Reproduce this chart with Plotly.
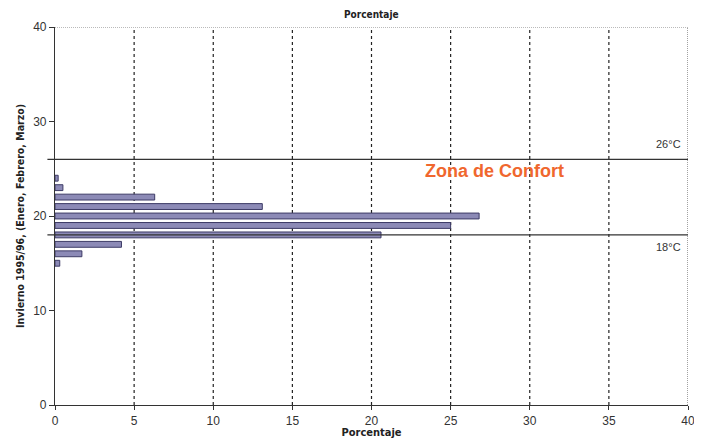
import plotly.graph_objects as go

temperaturas = [15, 16, 17, 18, 19, 20, 21, 22, 23, 24]
porcentajes = [0.3, 1.7, 4.2, 20.6, 25.0, 26.8, 13.1, 6.3, 0.5, 0.2]
x_ticks = [0, 5, 10, 15, 20, 25, 30, 35, 40]
y_ticks = [0, 10, 20, 30, 40]
limite_inferior = 18
limite_superior = 26

COND = "Liberation Sans Narrow, DejaVu Sans Condensed, Arial Narrow"
SANS = "Arial, Liberation Sans"

fig = go.Figure()
fig.add_trace(go.Bar(
    x=porcentajes, y=temperaturas, orientation="h", width=0.62,
    marker=dict(color="#8c8ab6", line=dict(color="#3d3b66", width=1)),
    showlegend=False,
))

for v in x_ticks[1:-1]:
    fig.add_shape(type="line", x0=v, x1=v, y0=0, y1=40, xref="x", yref="y",
                  line=dict(color="#222", width=1.2, dash="3px,3px"), layer="below")
fig.add_shape(type="line", x0=40, x1=40, y0=0, y1=40, xref="x", yref="y",
              line=dict(color="#444", width=1, dash="1px,1px"))
fig.add_shape(type="line", x0=0, x1=40, y0=40, y1=40, xref="x", yref="y",
              line=dict(color="#777", width=1, dash="1px,1px"))

for lim in (limite_inferior, limite_superior):
    fig.add_shape(type="line", x0=-0.012, x1=1, y0=lim, y1=lim, xref="paper", yref="y",
                  line=dict(color="#333", width=1.2))

fig.add_annotation(x=39.7, y=limite_superior + 1.6, text="26°C", showarrow=False,
                   xanchor="right", font=dict(family=SANS, size=11, color="#333"))
fig.add_annotation(x=39.7, y=limite_inferior - 1.3, text="18°C", showarrow=False,
                   xanchor="right", font=dict(family=SANS, size=11, color="#333"))
fig.add_annotation(x=27.8, y=24.8, text="<b>Zona de Confort</b>", showarrow=False,
                   font=dict(family=SANS, size=18, color="#f0672e"))
fig.add_annotation(x=0.5, y=1.0, xref="paper", yref="paper", yshift=13, yanchor="middle",
                   text="<b>Porcentaje</b>", showarrow=False,
                   font=dict(family=COND, size=10, color="#222"))

fig.update_layout(
    width=694, height=431,
    margin=dict(l=47, r=14, t=19, b=34),
    paper_bgcolor="white", plot_bgcolor="white",
    xaxis=dict(range=[0, 40], tickvals=x_ticks, ticktext=[str(t) for t in x_ticks],
               automargin=False,
               showgrid=False, zeroline=False, showline=True, linecolor="#333", linewidth=1.2,
               ticks="outside", ticklen=4, tickcolor="#333",
               tickfont=dict(family=SANS, size=12, color="#333"),
               title=dict(text="<b>Porcentaje</b>", standoff=2,
                          font=dict(family=COND, size=11, color="#222"))),
    yaxis=dict(range=[0, 40], tickvals=y_ticks, ticktext=[str(t) for t in y_ticks],
               automargin=False,
               showgrid=False, zeroline=False, showline=True, linecolor="#333", linewidth=1.2,
               ticks="outside", ticklen=5, tickcolor="#333",
               tickfont=dict(family=SANS, size=12, color="#333"),
               title=dict(text="<b>Invierno 1995/96, (Enero, Febrero, Marzo)</b>", standoff=6,
                          font=dict(family=COND, size=10.5, color="#222"))),
)

fig.write_html("out.html")
